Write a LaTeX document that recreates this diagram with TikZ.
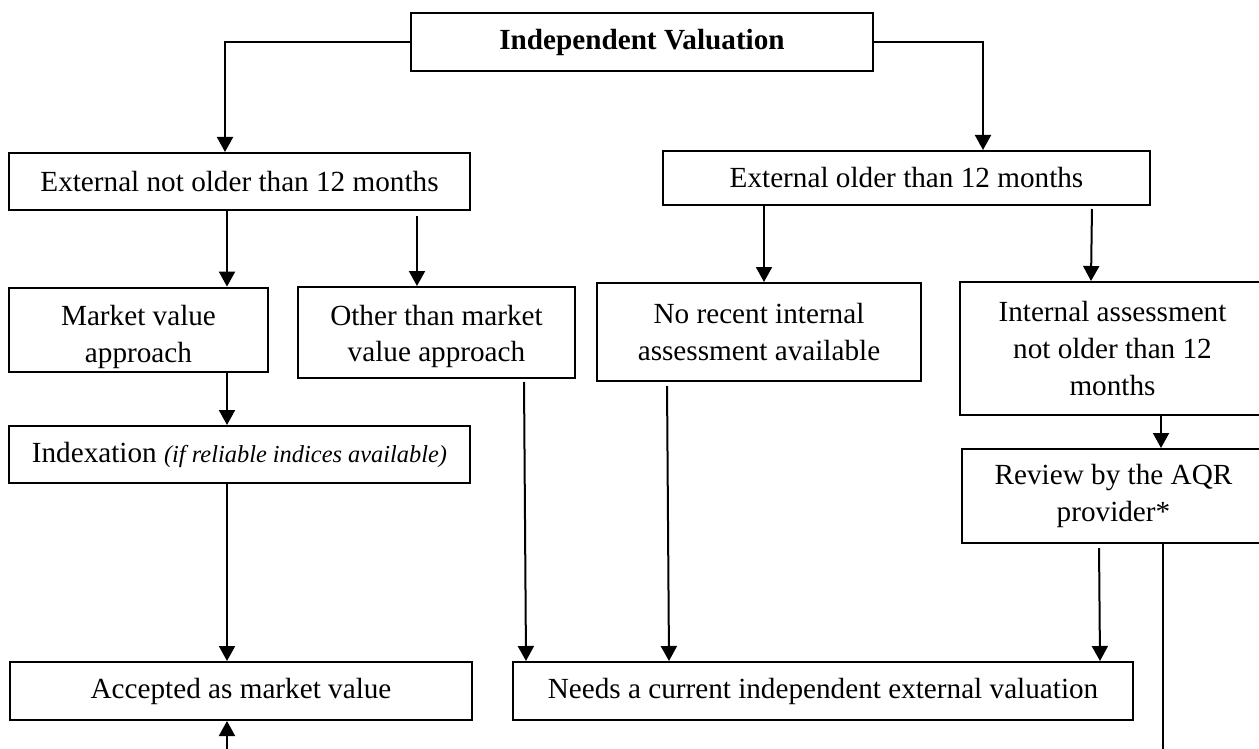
\documentclass[tikz,border=0pt]{standalone}
\usepackage{fontspec}
\setmainfont{Liberation Serif}
\usetikzlibrary{arrows.meta, positioning}
\tikzstyle{line} = [draw, line width=1pt, -{Triangle[width=8pt,length=7.5pt]}]

\begin{document}
\begin{tikzpicture}[x=0.5pt, y=-0.5pt, font=\fontsize{14.6}{18.3}\selectfont]

  % Define styles
  \tikzstyle{box} = [rectangle, draw=black, line width=1pt, align=center, inner sep=2pt]
  \tikzstyle{thinline} = [draw, line width=0.6pt]

  \useasboundingbox (0,0) rectangle (1259,749);

  % Place nodes
  \node [box, minimum width=231pt, minimum height=29pt, font=\fontsize{14.6}{18.3}\selectfont\bfseries] (valuation) at (642,42) {Independent Valuation};
  \node [box, minimum width=230.5pt, minimum height=28.5pt] (extA) at (239.5,181.5) {External not older than 12 months};
  \node [box, minimum width=243.5pt, minimum height=27pt] (extB) at (906.5,178) {External older than 12 months};
  \node [box, minimum width=129.5pt, minimum height=42pt] (market) at (138.5,330) {\rule{0pt}{17pt}Market value\\approach};
  \node [box, minimum width=138.5pt, minimum height=45.5pt] (other) at (436.5,332.5) {\rule{0pt}{14pt}Other than market\\value approach};
  \node [box, minimum width=162pt, minimum height=49pt] (norecent) at (759,332) {No recent internal\\assessment available};
  \node [box, minimum width=152.5pt, minimum height=66.5pt] (internal) at (1112.5,348.5) {Internal assessment\\not older than 12\\months};
  \node [box, minimum width=230.5pt, minimum height=28.5pt] (index) at (239.5,454.5) {Indexation {\fontsize{12.2}{14}\selectfont\itshape (if reliable indices available)}};
  \node [box, minimum width=151.5pt, minimum height=47pt] (review) at (1113.5,496) {Review by the AQR\\provider*};
  \node [box, minimum width=231pt, minimum height=29pt] (accepted) at (241,691) {Accepted as market value};
  \node [box, minimum width=310pt, minimum height=29pt] (needs) at (823,691) {Needs a current independent external valuation};
  \coordinate (revOut) at (1163,770);
  \coordinate (accIn) at (227,770);

  % Draw edges
  \path [line] (valuation.west) -| (extA.north -| 225,0);
  \path [line] (valuation.east) -| (extB.north -| 983,0);
  \path [line] (extA.south -| 227,0) -- (market.north -| 227,0);
  \path [line, shorten <=2.5pt] (extA.south -| 417,0) -- (other.north -| 417,0);
  \path [line] (extB.south -| 764,0) -- (norecent.north -| 764,0);
  \path [line, shorten <=1.5pt] (extB.south -| 1092,0) -- (internal.north -| 1091,0);
  \path [line] (market.south -| 227,0) -- (index.north -| 227,0);
  \path [line] (index.south -| 227,0) -- (accepted.north -| 227,0);
  \path [line, shorten <=1.5pt] (other.south -| 524,0) -- (needs.north -| 526,0);
  \path [line, shorten <=2pt] (norecent.south -| 667,0) -- (needs.north -| 669,0);
  \path [line] (internal.south -| 1161,0) -- (review.north -| 1161,0);
  \path [line, shorten <=2pt] (review.south -| 1099,0) -- (needs.north -| 1100,0);
  \path [thinline] (review.south -| 1163,0) -- (revOut);
  \path [line] (accIn) -- (accepted.south -| 227,0);

\end{tikzpicture}
\end{document}
